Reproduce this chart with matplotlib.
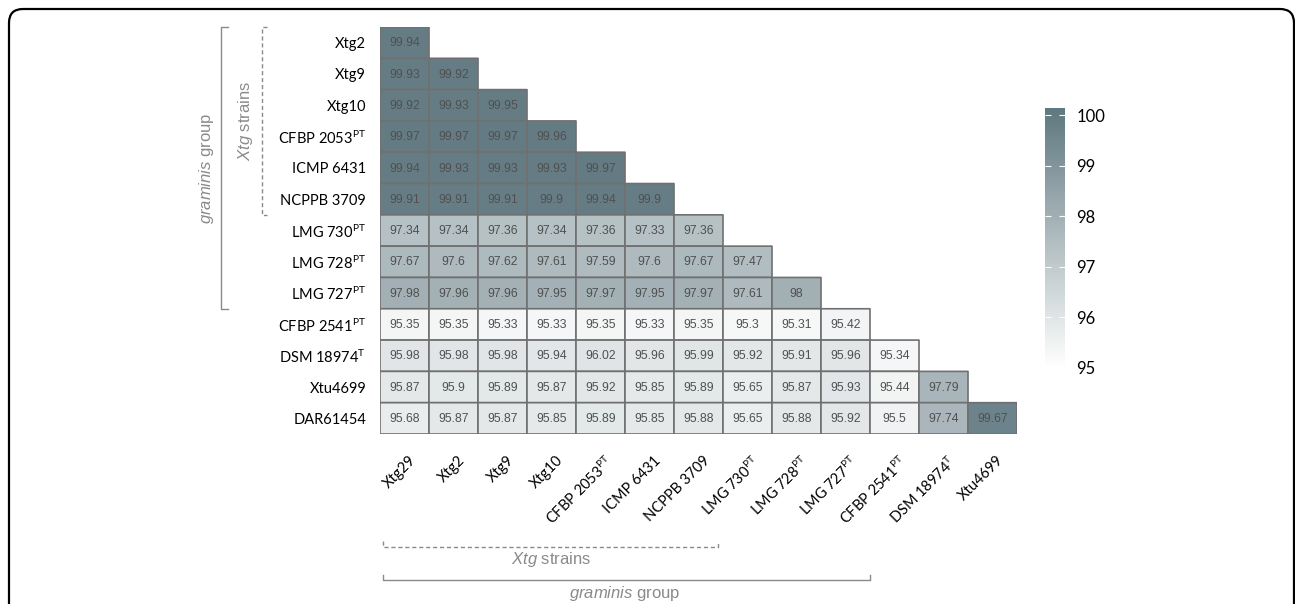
import numpy as np
import matplotlib
matplotlib.use("Agg")
import matplotlib.pyplot as plt
from matplotlib.colors import LinearSegmentedColormap
from matplotlib.patches import FancyBboxPatch

plt.rcParams["mathtext.fontset"] = "custom"
plt.rcParams["mathtext.rm"] = "Liberation Sans"
plt.rcParams["mathtext.it"] = "Liberation Sans:italic"

# strain names (rows = lower triangle, cols = first 13 strains)
row_labels = ["Xtg2", "Xtg9", "Xtg10", r"CFBP 2053$^{\mathregular{PT}}$", "ICMP 6431",
              "NCPPB 3709", r"LMG 730$^{\mathregular{PT}}$", r"LMG 728$^{\mathregular{PT}}$",
              r"LMG 727$^{\mathregular{PT}}$", r"CFBP 2541$^{\mathregular{PT}}$",
              r"DSM 18974$^{\mathregular{T}}$", "Xtu4699", "DAR61454"]
col_labels = ["Xtg29", "Xtg2", "Xtg9", "Xtg10", r"CFBP 2053$^{\mathregular{PT}}$", "ICMP 6431",
              "NCPPB 3709", r"LMG 730$^{\mathregular{PT}}$", r"LMG 728$^{\mathregular{PT}}$",
              r"LMG 727$^{\mathregular{PT}}$", r"CFBP 2541$^{\mathregular{PT}}$",
              r"DSM 18974$^{\mathregular{T}}$", "Xtu4699"]

# ANI values, one list per row
ani_rows = [
    [99.94],
    [99.93, 99.92],
    [99.92, 99.93, 99.95],
    [99.97, 99.97, 99.97, 99.96],
    [99.94, 99.93, 99.93, 99.93, 99.97],
    [99.91, 99.91, 99.91, 99.9, 99.94, 99.9],
    [97.34, 97.34, 97.36, 97.34, 97.36, 97.33, 97.36],
    [97.67, 97.6, 97.62, 97.61, 97.59, 97.6, 97.67, 97.47],
    [97.98, 97.96, 97.96, 97.95, 97.97, 97.95, 97.97, 97.61, 98],
    [95.35, 95.35, 95.33, 95.33, 95.35, 95.33, 95.35, 95.3, 95.31, 95.42],
    [95.98, 95.98, 95.98, 95.94, 96.02, 95.96, 95.99, 95.92, 95.91, 95.96, 95.34],
    [95.87, 95.9, 95.89, 95.87, 95.92, 95.85, 95.89, 95.65, 95.87, 95.93, 95.44, 97.79],
    [95.68, 95.87, 95.87, 95.85, 95.89, 95.85, 95.88, 95.65, 95.88, 95.92, 95.5, 97.74, 99.67],
]

n = len(row_labels)
mat = np.full((n, n), np.nan)
for i, r in enumerate(ani_rows):
    mat[i, :len(r)] = r
mat = np.ma.masked_invalid(mat)

W, H = 1295, 604
fig = plt.figure(figsize=(W / 100, H / 100), dpi=100)

# background overlay in pixel units for the rounded frame
bg = fig.add_axes([0, 0, 1, 1], zorder=-1)
bg.set_xlim(0, W)
bg.set_ylim(H, 0)
bg.axis("off")
bg.add_patch(FancyBboxPatch((9, 9), 1285, 700, boxstyle="round,pad=0,rounding_size=14",
                            fc="none", ec="black", lw=1.6, clip_on=False))

cmap = LinearSegmentedColormap.from_list("ani", ["#ffffff", "#5f777f"])

# heatmap axes
x0, x1, y0, y1 = 380, 1017, 27, 434
ax = fig.add_axes([x0 / W, 1 - y1 / H, (x1 - x0) / W, (y1 - y0) / H])
mesh = ax.pcolor(np.arange(n + 1), np.arange(n + 1), mat, cmap=cmap, vmin=95, vmax=100.14,
                 edgecolors="#707070", linewidth=1.2)
ax.set_xlim(0, n)
ax.set_ylim(n, 0)
for s in ax.spines.values():
    s.set_visible(False)

for i, r in enumerate(ani_rows):
    for j, v in enumerate(r):
        ax.text(j + 0.5, i + 0.52, f"{v:g}", ha="center", va="center", fontsize=8.8,
                color="#505050", family="Liberation Sans")

ax.set_yticks(np.arange(n) + 0.5)
ax.set_yticklabels(row_labels, family="Lato", fontsize=10.5)
ax.tick_params(axis="y", length=0, pad=10)
ax.set_xticks([])

for j, lab in enumerate(col_labels):
    ax.text(j + 0.58, n + 0.62, lab, rotation=45, ha="right", va="top",
            rotation_mode="anchor", family="Lato", fontsize=10.5)

# group brackets (left side)
grey = "#8a8a8a"
ax.plot([-3.1, -3.25, -3.25, -3.1], [0, 0, 9, 9], color=grey, lw=1, clip_on=False)
ax.text(-3.55, 4.5, r"$\mathit{graminis}$ group", rotation=90, ha="center", va="center",
        fontsize=12, color=grey, family="Liberation Sans")
ax.plot([-2.3, -2.4, -2.4, -2.3], [0, 0, 6, 6], color=grey, lw=1, ls=(0, (3, 2)), clip_on=False)
ax.text(-2.75, 3.0, r"$\mathit{Xtg}$ strains", rotation=90, ha="center", va="center",
        fontsize=12, color=grey, family="Liberation Sans")

# group brackets (bottom)
ax.plot([0.06, 0.06, 6.9, 6.9], [16.43, 16.6, 16.6, 16.43], color=grey, lw=1,
        ls=(0, (3, 2)), clip_on=False)
ax.text(3.5, 17.0, r"$\mathit{Xtg}$ strains", ha="center", va="center",
        fontsize=12, color=grey, family="Liberation Sans")
ax.plot([0.06, 0.06, 10.0, 10.0], [17.5, 17.67, 17.67, 17.5], color=grey, lw=1, clip_on=False)
ax.text(5.0, 18.1, r"$\mathit{graminis}$ group", ha="center", va="center",
        fontsize=12, color=grey, family="Liberation Sans")

# colour bar
cax = fig.add_axes([1045 / W, 1 - 368 / H, 20 / W, (368 - 108) / H])
cb = fig.colorbar(mesh, cax=cax, ticks=[95, 96, 97, 98, 99, 100])
cb.outline.set_visible(False)
cax.tick_params(axis="y", direction="in", length=4, color="white", left=True, right=True,
                labelleft=False, labelright=True, labelsize=12, pad=8)
for t in cax.get_yticklabels():
    t.set_family("Lato")

plt.savefig("out.png", dpi=100)
